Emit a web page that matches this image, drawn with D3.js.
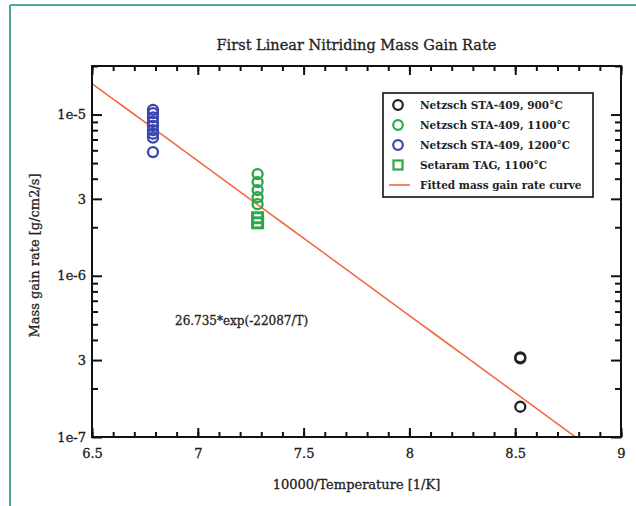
<!DOCTYPE html>
<html>
<head>
<meta charset="utf-8">
<script src="https://cdn.jsdelivr.net/npm/d3@7"></script>
<style>
  html, body { margin: 0; padding: 0; background: #fff; }
  svg text { font-family: "DejaVu Serif", "Liberation Serif", serif; fill: #222; }
</style>
</head>
<body>
<div id="chart"></div>
<script>
// 数据
const tempsC = [900, 1100, 1200];            // 温度 °C
const rate900 = [3.12e-7, 3.07e-7, 1.54e-7];
const rate1100 = [4.27e-6, 3.81e-6, 3.4e-6, 3.07e-6, 2.78e-6];
const rate1200 = [1.07e-5, 1.02e-5, 9.6e-6, 9.0e-6, 8.5e-6, 8.0e-6, 7.6e-6, 7.2e-6, 5.85e-6];
const rateTAG1100 = [2.29e-6, 2.13e-6];
const fitA = 26.735, fitB = 22087;

const xMajor = [6.5, 7, 7.5, 8, 8.5, 9];
const xMinor = d3.range(65, 91).map(d => d / 10);
const yMajor = [1e-7, 3e-7, 1e-6, 3e-6, 1e-5];
const yMajorLabels = ["1e-7", "3", "1e-6", "3", "1e-5"];
const yMinor = [2e-7, 4e-7, 5e-7, 6e-7, 7e-7, 8e-7, 9e-7, 2e-6, 4e-6, 5e-6, 6e-6, 7e-6, 8e-6, 9e-6, 2e-5];

const legendItems = [
    { label: "Netzsch STA-409, 900°C", color: "#222", shape: "circle" },
    { label: "Netzsch STA-409, 1100°C", color: "#2aa84a", shape: "circle" },
    { label: "Netzsch STA-409, 1200°C", color: "#3a45b0", shape: "circle" },
    { label: "Setaram TAG, 1100°C", color: "#2aa84a", shape: "square" },
    { label: "Fitted mass gain rate curve", color: "#f26a3d", shape: "line" }
];

const W = 636, H = 506;
const plot = { left: 92, right: 621, top: 66, bottom: 437 };
const axisColor = "#111";

const svg = d3.select("#chart").append("svg")
    .attr("width", W).attr("height", H);

// 外框（青色）
svg.append("line").attr("x1", 10).attr("x2", W).attr("y1", 5).attr("y2", 5)
    .attr("stroke", "#4fa79d").attr("stroke-width", 2);
svg.append("line").attr("x1", 10).attr("x2", 10).attr("y1", 5).attr("y2", H)
    .attr("stroke", "#4fa79d").attr("stroke-width", 2);

const x = d3.scaleLinear().domain([6.5, 9]).range([plot.left, plot.right]);
const y = d3.scaleLog().domain([1e-7, 2e-5]).range([plot.bottom, plot.top]);

const toX = c => 10000 / (c + 273.15);

// clip
svg.append("clipPath").attr("id", "clip").append("rect")
    .attr("x", plot.left).attr("y", plot.top)
    .attr("width", plot.right - plot.left).attr("height", plot.bottom - plot.top);

// 拟合曲线
const fitXs = d3.range(6.5, 9.0001, 0.05);
svg.append("path")
    .attr("clip-path", "url(#clip)")
    .attr("d", d3.line().x(d => x(d)).y(d => y(fitA * Math.exp(-fitB / (10000 / d))))(fitXs))
    .attr("fill", "none").attr("stroke", "#f26a3d").attr("stroke-width", 1.6);

// 数据点
const drawCircles = (vals, xv, color) => {
    svg.append("g").selectAll("circle").data(vals).join("circle")
        .attr("cx", x(xv)).attr("cy", d => y(d)).attr("r", 5)
        .attr("fill", "none").attr("stroke", color).attr("stroke-width", 2.3);
};
drawCircles(rate900, toX(tempsC[0]), legendItems[0].color);
drawCircles(rate1100, toX(tempsC[1]), legendItems[1].color);
drawCircles(rate1200, toX(tempsC[2]), legendItems[2].color);
svg.append("g").selectAll("rect").data(rateTAG1100).join("rect")
    .attr("x", x(toX(tempsC[1])) - 5).attr("y", d => y(d) - 5)
    .attr("width", 10).attr("height", 10)
    .attr("fill", "none").attr("stroke", legendItems[3].color).attr("stroke-width", 3);

// 坐标轴
const styleAxis = g => {
    g.select(".domain").remove();
    g.selectAll(".tick line").attr("stroke", axisColor).attr("stroke-width", 2);
    g.selectAll("text").attr("font-size", 13).attr("fill", axisColor)
        .attr("font-family", "DejaVu Serif").attr("stroke", axisColor).attr("stroke-width", 0.3);
};
const noLabel = () => "";
svg.append("g").attr("transform", `translate(0,${plot.bottom})`)
    .call(d3.axisBottom(x).tickValues(xMinor).tickSizeInner(-5).tickSizeOuter(0).tickFormat(noLabel))
    .call(styleAxis);
svg.append("g").attr("transform", `translate(0,${plot.bottom})`)
    .call(d3.axisBottom(x).tickValues(xMajor).tickSizeInner(-9).tickSizeOuter(0).tickPadding(12).tickFormat(d3.format("")))
    .call(styleAxis);
svg.append("g").attr("transform", `translate(0,${plot.top})`)
    .call(d3.axisTop(x).tickValues(xMinor).tickSizeInner(-5).tickSizeOuter(0).tickFormat(noLabel))
    .call(styleAxis);
svg.append("g").attr("transform", `translate(0,${plot.top})`)
    .call(d3.axisTop(x).tickValues(xMajor).tickSizeInner(-9).tickSizeOuter(0).tickFormat(noLabel))
    .call(styleAxis);

svg.append("g").attr("transform", `translate(${plot.left},0)`)
    .call(d3.axisLeft(y).tickValues(yMinor).tickSizeInner(-6).tickSizeOuter(0).tickFormat(noLabel))
    .call(styleAxis);
svg.append("g").attr("transform", `translate(${plot.left},0)`)
    .call(d3.axisLeft(y).tickValues(yMajor).tickSizeInner(-10).tickSizeOuter(0).tickPadding(6).tickFormat((d, i) => yMajorLabels[i]))
    .call(styleAxis);
svg.append("g").attr("transform", `translate(${plot.right},0)`)
    .call(d3.axisRight(y).tickValues(yMinor).tickSizeInner(-6).tickSizeOuter(0).tickFormat(noLabel))
    .call(styleAxis);
svg.append("g").attr("transform", `translate(${plot.right},0)`)
    .call(d3.axisRight(y).tickValues(yMajor).tickSizeInner(-10).tickSizeOuter(0).tickFormat(noLabel))
    .call(styleAxis);

// 边框
svg.append("rect").attr("x", plot.left).attr("y", plot.top)
    .attr("width", plot.right - plot.left).attr("height", plot.bottom - plot.top)
    .attr("fill", "none").attr("stroke", axisColor).attr("stroke-width", 2);

// 标题和轴标签
const cx = (plot.left + plot.right) / 2;
const addText = (sel) => sel.attr("stroke", "#222").attr("stroke-width", 0.3);
svg.append("text").attr("x", cx).attr("y", 50).attr("text-anchor", "middle")
    .attr("font-size", 14.5).text("First Linear Nitriding Mass Gain Rate").call(addText);
svg.append("text").attr("x", cx).attr("y", 489).attr("text-anchor", "middle")
    .attr("font-size", 13).text("10000/Temperature [1/K]").call(addText);
svg.append("text").attr("transform", `translate(39,${(plot.top + plot.bottom) / 2 + 4}) rotate(-90)`)
    .attr("text-anchor", "middle").attr("font-size", 13).text("Mass gain rate [g/cm2/s]").call(addText);
svg.append("text").attr("x", 175).attr("y", 325).attr("font-size", 12)
    .text(`${fitA}*exp(-${fitB}/T)`).call(addText);

// 图例
const lg = svg.append("g").attr("transform", "translate(383,93)");
lg.append("rect").attr("width", 210).attr("height", 104)
    .attr("fill", "#fff").attr("stroke", axisColor).attr("stroke-width", 1.6);
legendItems.forEach((it, i) => {
    const row = lg.append("g").attr("transform", `translate(0,${12 + i * 20})`);
    if (it.shape === "circle") {
        row.append("circle").attr("cx", 15).attr("cy", 0).attr("r", 4.8)
            .attr("fill", "none").attr("stroke", it.color).attr("stroke-width", 2.2);
    } else if (it.shape === "square") {
        row.append("rect").attr("x", 10.5).attr("y", -4.5).attr("width", 9).attr("height", 9)
            .attr("fill", "none").attr("stroke", it.color).attr("stroke-width", 2.2);
    } else {
        row.append("line").attr("x1", 6).attr("x2", 27).attr("y1", 0).attr("y2", 0)
            .attr("stroke", it.color).attr("stroke-width", 1.6);
    }
    row.append("text").attr("x", 37).attr("y", 4).attr("font-size", 10.5)
        .attr("font-weight", "bold").text(it.label);
});
</script>
</body>
</html>
